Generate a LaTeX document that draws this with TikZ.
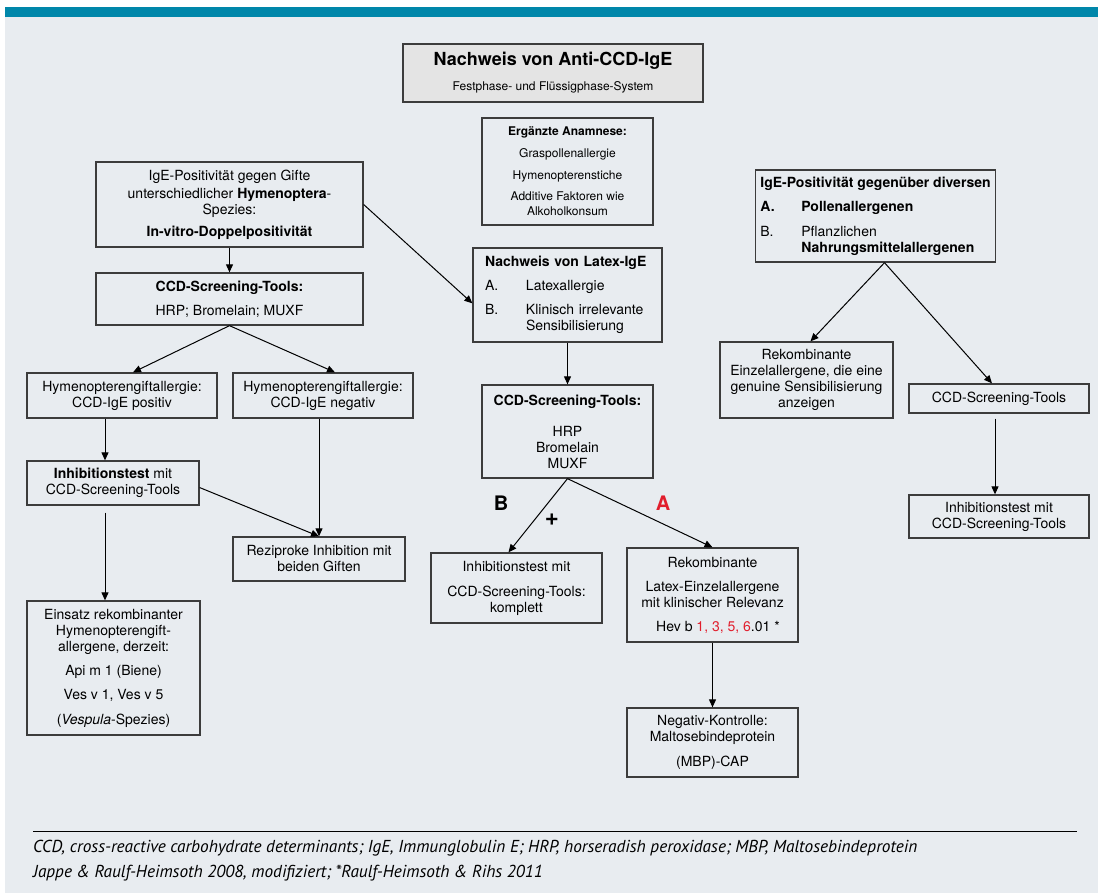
\documentclass[tikz,border=0pt]{standalone}
\usepackage{fontspec}
\setmainfont{TeX Gyre Heros}
\newfontfamily\footfont{PT Sans}
\usetikzlibrary{arrows.meta,positioning}

\definecolor{bgcol}{RGB}{232,236,240}
\definecolor{bandcol}{RGB}{0,135,170}
\definecolor{boxline}{RGB}{60,60,60}
\definecolor{titlefill}{RGB}{228,228,228}
\definecolor{hevred}{RGB}{225,30,45}

\begin{document}
\begin{tikzpicture}
        [x=1pt, y=-1pt,
        box/.style={rectangle, draw=boxline, line width=1.3pt, align=center, inner sep=2pt, font=\fontsize{14}{16}\selectfont},
        leftbox/.style={box, align=left},
        footline/.style={anchor=west, inner sep=0, font=\footfont\itshape\fontsize{17.3}{19}\selectfont},
        conn/.style={-{Triangle[length=8pt,width=7pt]}, line width=1pt}]
        % background and band
        \fill[white] (0,0) rectangle (1098,895);
        \fill[bgcol] (5,7) rectangle (1098,893);
        \fill[bandcol] (5,7) rectangle (1098,17);
        \useasboundingbox (0,0) rectangle (1098,895);
        % middle column
        \node[box, fill=titlefill, minimum width=300pt, minimum height=58pt] (title) at (553,73)
            {{\fontsize{18}{20}\selectfont\bfseries Nachweis von Anti-CCD-IgE}\\[9pt]{\fontsize{12}{14}\selectfont Festphase- und Flüssigphase-System}};
        \node[box, font=\fontsize{12}{15}\selectfont, minimum width=171pt, minimum height=107pt] (anam) at (567.5,171.5)
            {\textbf{Ergänzte Anamnese:}\\[7pt]Graspollenallergie\\[7pt]Hymenopterenstiche\\[6pt]Additive Faktoren wie\\Alkoholkonsum};
        \node[leftbox, text width=165pt, inner xsep=12pt, minimum height=94pt] (latex) at (567.5,295)
            {\textbf{Nachweis von Latex-IgE}\\[8pt]\makebox[41pt][l]{A.}Latexallergie\\[8pt]\makebox[41pt][l]{B.}Klinisch irrelevante\\\hspace*{41pt}Sensibilisierung};
        \node[box, minimum width=171pt, minimum height=93pt] (ccdm) at (567.5,431.5)
            {\textbf{CCD-Screening-Tools:}\\[15pt]HRP\\Bromelain\\MUXF};
        \node[box, minimum width=171pt, minimum height=70pt] (inhM) at (516.5,588)
            {Inhibitionstest mit\\[9pt]CCD-Screening-Tools:\\komplett};
        \node[box, minimum width=171pt, minimum height=94pt] (rekM) at (712.5,595)
            {Rekombinante\\[8pt]Latex-Einzelallergene\\mit klinischer Relevanz\\[8pt]\hspace*{11pt}Hev b \textcolor{hevred}{1, 3, 5, 6}.01 *};
        \node[box, minimum width=171pt, minimum height=69pt] (negM) at (712.5,742.5)
            {Negativ-Kontrolle:\\Maltosebindeprotein\\[9pt](MBP)-CAP};
        \node[font=\fontsize{20}{20}\selectfont\bfseries] (labB) at (501,503) {B};
        \node[font=\fontsize{20}{20}\selectfont\bfseries, text=hevred] (labA) at (663,503) {A};
        \node[font=\fontsize{24}{24}\selectfont\bfseries] (plus) at (552,520) {+};
        % left column
        \node[box, minimum width=267pt, minimum height=85pt] (hym) at (229.5,204.5)
            {IgE-Positivität gegen Gifte\\[2pt]unterschiedlicher \textbf{Hymenoptera}-\\Spezies:\\[6pt]\textbf{In-vitro-Doppelpositivität}};
        \node[box, minimum width=267pt, minimum height=52pt] (ccdl) at (229.5,299)
            {\textbf{CCD-Screening-Tools:}\\[8pt]HRP; Bromelain; MUXF};
        \node[box, minimum width=190pt, minimum height=45pt] (posL) at (122,395.5)
            {Hymenopterengiftallergie:\\CCD-IgE positiv};
        \node[box, minimum width=180pt, minimum height=45pt] (negL) at (323,395.5)
            {Hymenopterengiftallergie:\\CCD-IgE negativ};
        \node[box, minimum width=172pt, minimum height=44pt] (inhL) at (113,483)
            {\textbf{Inhibitionstest} mit\\CCD-Screening-Tools};
        \node[box, minimum width=172pt, minimum height=44pt] (rezL) at (319,559)
            {Reziproke Inhibition mit\\beiden Giften};
        \node[box, minimum width=173pt, minimum height=134pt] (einsatz) at (113.5,668)
            {Einsatz rekombinanter\\Hymenopterengift-\\allergene, derzeit:\\[8pt]Api m 1 (Biene)\\[8pt]Ves v 1, Ves v 5\\[9pt](\textit{Vespula}-Spezies)};
        % right column
        \node[leftbox, inner xsep=5pt, minimum width=239pt, minimum height=92pt] (igeR) at (875.5,216)
            {\textbf{IgE-Positivität gegenüber diversen}\\[8pt]\makebox[41pt][l]{\textbf{A.}}\textbf{Pollenallergenen}\\[9pt]\makebox[41pt][l]{B.}Pflanzlichen\\\hspace*{41pt}\textbf{Nahrungsmittelallergenen}};
        \node[box, minimum width=173pt, minimum height=76pt] (rekR) at (806.5,380)
            {Rekombinante\\Einzelallergene, die eine\\genuine Sensibilisierung\\anzeigen};
        \node[box, minimum width=180pt, minimum height=29pt] (ccdR) at (999,398.5) {CCD-Screening-Tools};
        \node[box, minimum width=180pt, minimum height=43pt] (inhR) at (999,516.5)
            {Inhibitionstest mit\\CCD-Screening-Tools};
        % connectors
        \draw[conn] (hym) -- (ccdl);
        \draw[conn] (hym.east) -- (latex.185);
        \draw[conn] (ccdl.south) -- ([xshift=11pt]posL.north);
        \draw[conn] (ccdl.south) -- ([xshift=12pt]negL.north);
        \draw[conn] ([xshift=-17pt]posL.south) -- ([xshift=-8pt]inhL.north);
        \draw[conn] (negL.south -| rezL.north) -- (rezL.north);
        \draw[conn] (inhL.-3) -- (rezL.north);
        \draw[conn, shorten <=7pt] ([xshift=-8pt]inhL.south) -- ([xshift=-8.5pt]einsatz.north);
        \draw[conn] (latex) -- (ccdm);
        \draw[conn] (ccdm.south) -- ([xshift=-8pt]inhM.north);
        \draw[conn] (ccdm.south) -- (rekM.north);
        \draw[conn] (rekM) -- (negM);
        \draw[conn] ([xshift=9pt]igeR.south) -- ([xshift=4pt]rekR.north);
        \draw[conn] ([xshift=9pt]igeR.south) -- ([xshift=-7pt]ccdR.north);
        \draw[conn, shorten <=5pt] ([xshift=-4pt]ccdR.south) -- ([xshift=-4pt]inhR.north);
        % footnote
        \draw[line width=1pt] (33,831) -- (1077,831);
        \node[footline] (foot1) at (33,848)
            {CCD, cross-reactive carbohydrate determinants; IgE, Immunglobulin E; HRP, horseradish peroxidase; MBP, Maltosebindeprotein};
        \node[footline] (foot2) at (33,873)
            {Jappe \& Raulf-Heimsoth 2008, modifiziert; *Raulf-Heimsoth \& Rihs 2011};
    \end{tikzpicture}
\end{document}
